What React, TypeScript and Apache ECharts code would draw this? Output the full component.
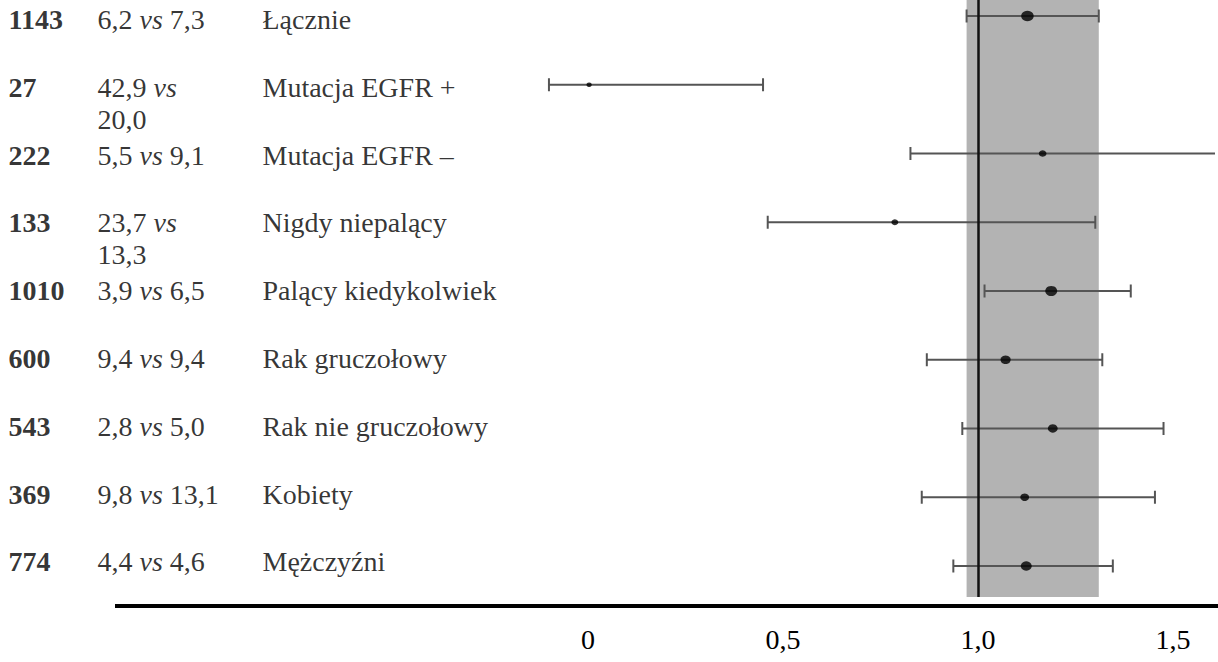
import React, { useEffect, useRef } from "react";
import * as echarts from "echarts";

// ---- data ----
const ROWS = [
  "Łącznie",
  "Mutacja EGFR +",
  "Mutacja EGFR –",
  "Nigdy niepalący",
  "Palący kiedykolwiek",
  "Rak gruczołowy",
  "Rak nie gruczołowy",
  "Kobiety",
  "Mężczyźni",
];
const N = [1143, 27, 222, 133, 1010, 600, 543, 369, 774];
const RATE_A = ["6,2", "42,9", "5,5", "23,7", "3,9", "9,4", "2,8", "9,8", "4,4"];
const RATE_B = ["7,3", "20,0", "9,1", "13,3", "6,5", "9,4", "5,0", "13,1", "4,6"];
const HR = [1.127, 0.003, 1.166, 0.787, 1.188, 1.071, 1.192, 1.12, 1.124];
const CI_LOW = [0.971, -0.1, 0.827, 0.461, 1.017, 0.869, 0.96, 0.856, 0.937];
const CI_HIGH = [1.31, 0.449, 1.75, 1.301, 1.392, 1.319, 1.476, 1.454, 1.346];
const TICK_VALUES = [0, 0.5, 1, 1.5];
const TICK_LABELS = ["0", "0,5", "1,0", "1,5"];

// ---- layout ----
const FONT = "'Liberation Serif', 'Times New Roman', serif";
const FS = 28;
const LH = 32;
const COL_X = [8, 97, 262];
const PLOT_H = 597;

export default function App() {
  const ref = useRef<HTMLDivElement>(null);

  useEffect(() => {
    if (!ref.current) return;
    const chart = echarts.init(ref.current, undefined, { renderer: "svg" });

    const idx = ROWS.map((_, i) => i);
    const maxN = Math.max(...N);
    const dotSize = (n: number) => {
      const w = 4 + 8.5 * Math.sqrt(n / maxN);
      return [w, w * 0.85];
    };

    const labelBase = {
      show: true,
      position: "right",
      distance: 0,
      verticalAlign: "top",
      offset: [0, -LH / 2],
      fontFamily: FONT,
      fontSize: FS,
      lineHeight: LH,
      color: "#000",
    };

    const colSeries = (col: number, formatter: (i: number) => string, extra: any = {}) => ({
      type: "scatter",
      xAxisIndex: 1,
      yAxisIndex: 1,
      symbolSize: 1,
      itemStyle: { color: "rgba(0,0,0,0)" },
      silent: true,
      z: 5,
      data: idx.map((i) => [COL_X[col], i]),
      label: {
        ...labelBase,
        ...extra,
        formatter: (p: any) => formatter(p.dataIndex),
      },
    });

    const option: any = {
      animation: false,
      backgroundColor: "#fff",
      grid: [
        { left: -3.5, right: 0, top: 0, height: PLOT_H },
        { left: 0, right: 0, top: 0, height: PLOT_H },
      ],
      xAxis: [
        {
          type: "value",
          gridIndex: 0,
          min: -1.5,
          max: 1.608,
          interval: 0.5,
          axisLine: { show: false },
          axisTick: { show: false },
          splitLine: { show: false },
          axisLabel: {
            margin: 28,
            fontFamily: FONT,
            fontSize: FS,
            color: "#000",
            formatter: (v: number) => {
              const k = TICK_VALUES.findIndex((t) => Math.abs(t - v) < 1e-6);
              return k >= 0 ? TICK_LABELS[k] : "";
            },
          },
        },
        { type: "value", gridIndex: 1, min: 0, max: 1218, show: false },
      ],
      yAxis: [
        { type: "value", gridIndex: 0, inverse: true, min: -0.2327, max: 8.451, show: false },
        { type: "value", gridIndex: 1, inverse: true, min: -0.2876, max: 8.518, show: false },
      ],
      graphic: [
        {
          type: "line",
          shape: { x1: 115, y1: 606, x2: 1218, y2: 606 },
          style: { stroke: "#000", lineWidth: 4 },
        },
      ],
      series: [
        {
          type: "line",
          data: [],
          z: 1,
          silent: true,
          markArea: {
            silent: true,
            itemStyle: { color: "#b3b3b3" },
            data: [[{ xAxis: CI_LOW[0] }, { xAxis: CI_HIGH[0] }]],
          },
        },
        {
          type: "line",
          data: [],
          z: 2,
          silent: true,
          markLine: {
            silent: true,
            symbol: "none",
            label: { show: false },
            lineStyle: { color: "#111", width: 2.5, type: "solid" },
            data: [{ xAxis: 1 }],
          },
        },
        {
          type: "custom",
          z: 3,
          silent: true,
          encode: { x: [0, 1], y: 2 },
          data: idx.map((i) => [CI_LOW[i], CI_HIGH[i], i]),
          renderItem: (params: any, api: any) => {
            const row = api.value(2);
            const a = api.coord([api.value(0), row]);
            const b = api.coord([api.value(1), row]);
            const cs = params.coordSys;
            const left = cs.x;
            const right = cs.x + cs.width;
            const x1 = Math.max(a[0], left);
            const x2 = Math.min(b[0], right);
            const y = a[1];
            const st = { stroke: "#555", lineWidth: 2 };
            const children: any[] = [
              { type: "line", shape: { x1, y1: y, x2, y2: y }, style: st },
            ];
            const h = 6.5;
            if (a[0] >= left)
              children.push({ type: "line", shape: { x1: a[0], y1: y - h, x2: a[0], y2: y + h }, style: st });
            if (b[0] <= right)
              children.push({ type: "line", shape: { x1: b[0], y1: y - h, x2: b[0], y2: y + h }, style: st });
            return { type: "group", children };
          },
        },
        {
          type: "scatter",
          z: 4,
          silent: true,
          symbol: "circle",
          symbolSize: (v: any) => dotSize(v[2]),
          itemStyle: { color: "#000" },
          data: idx.map((i) => [HR[i], i, N[i]]),
        },
        colSeries(0, (i) => String(N[i]), { fontWeight: "bold" }),
        colSeries(1, (i) => {
          const s = `${RATE_A[i]} vs ${RATE_B[i]}`;
          const brk = s.length > 11;
          return `{n|${RATE_A[i]} }{i|vs}${brk ? "\n" : ""}{n|${brk ? "" : " "}${RATE_B[i]}}`;
        }, {
          rich: {
            n: { fontFamily: FONT, fontSize: FS, lineHeight: LH, color: "#000" },
            i: { fontFamily: FONT, fontSize: FS, lineHeight: LH, color: "#000", fontStyle: "italic" },
          },
        }),
        colSeries(2, (i) => ROWS[i]),
      ],
    };

    chart.setOption(option);
    return () => chart.dispose();
  }, []);

  return (
    <div
      ref={ref}
      style={{ position: "absolute", left: 0, top: 0, width: 1218, height: 662, background: "#fff" }}
    />
  );
}
